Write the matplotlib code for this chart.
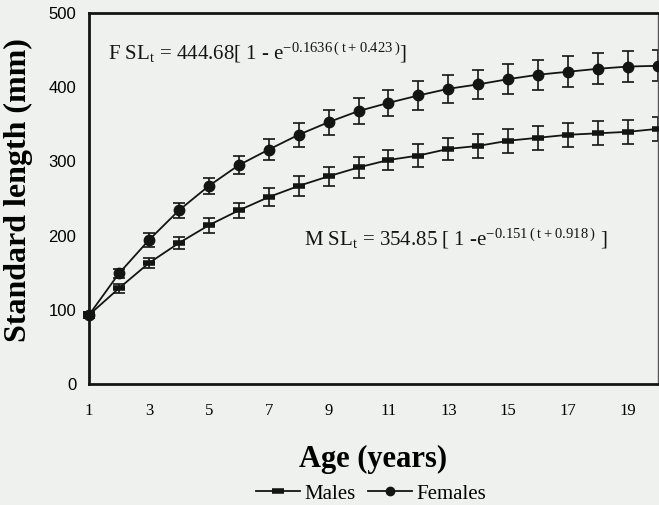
#!/usr/bin/env python3
"""Growth curves (standard length at age) for males and females."""
import matplotlib

matplotlib.use("Agg")
import matplotlib.pyplot as plt
from matplotlib.lines import Line2D

plt.rcParams["font.family"] = ["Liberation Serif", "DejaVu Serif"]
plt.rcParams["mathtext.fontset"] = "custom"
plt.rcParams["mathtext.rm"] = "Liberation Serif"
plt.rcParams["mathtext.default"] = "regular"

ages = list(range(1, 21))
female_sl = [93, 149, 194, 234, 267, 295, 316, 336, 353, 368,
             379, 389, 398, 404, 411, 417, 421, 425, 428, 429]
female_err = [4, 6, 9, 10, 11, 12, 14, 16, 17, 18,
              18, 19, 19, 20, 20, 20, 21, 21, 21, 21]
male_sl = [93, 129, 163, 190, 214, 234, 252, 267, 280, 292,
           302, 308, 317, 321, 328, 332, 336, 338, 340, 344]
male_err = [4, 6, 7, 8, 10, 10, 12, 13, 13, 14,
            14, 15, 15, 16, 16, 16, 16, 16, 16, 16]
x_ticks = [1, 3, 5, 7, 9, 11, 13, 15, 17, 19]
y_ticks = [0, 100, 200, 300, 400, 500]

bg = "#eef1ee"
ink = "#141414"

fig = plt.figure(figsize=(6.59, 5.05), dpi=100, facecolor=bg)
ax = fig.add_axes([0.135, 0.2396, 0.8635, 0.7344], facecolor=bg)

bars = dict(fmt="none", ecolor=ink, elinewidth=1.2, capsize=4.5, capthick=1.2,
            clip_on=False, zorder=2)
ax.errorbar(ages, male_sl, yerr=male_err, **bars)
ax.errorbar(ages, female_sl, yerr=female_err, **bars)
ax.plot(ages, male_sl, color=ink, linewidth=1.3, marker="_", markersize=8,
        markeredgewidth=4, clip_on=False, zorder=3)
ax.plot(ages, female_sl, color=ink, linewidth=1.3, marker="o", markersize=7.5,
        clip_on=False, zorder=3)

ax.set_xlim(1, 20)
ax.set_ylim(0, 500)
ax.set_xticks(x_ticks)
ax.set_yticks(y_ticks)
ax.tick_params(axis="both", length=0)
ax.tick_params(axis="x", labelsize=12, pad=14)
ax.tick_params(axis="y", labelsize=12, pad=9)
for lab in ax.get_yticklabels():
    lab.set_family(["Liberation Sans", "DejaVu Sans"])

for side in ["left", "bottom", "top"]:
    ax.spines[side].set_linewidth(2)
    ax.spines[side].set_color(ink)
ax.spines["right"].set_linewidth(1)
ax.spines["right"].set_color("#555555")

ax.set_xlabel("Age (years)", fontsize=22, fontweight="bold")
ax.xaxis.set_label_coords(0.5, -0.165)
ax.set_ylabel("Standard length (mm)", fontsize=23, fontweight="bold")
ax.yaxis.set_label_coords(-0.098, 0.523)

ax.text(1.62, 438, r"F SL$_t$ = 444.68[ 1 - e$^{-0.1636\,(\,t + 0.423\,)}$]",
        fontsize=15, color=ink, va="baseline")
ax.text(8.17, 187, r"M SL$_t$ = 354.85 [ 1 -e$^{-0.151\,(\,t + 0.918\,)}$ ]",
        fontsize=15, color=ink, va="baseline")

handles = [
    Line2D([], [], color=ink, linewidth=1.3, marker="_", markersize=8, markeredgewidth=4),
    Line2D([], [], color=ink, linewidth=1.3, marker="o", markersize=6),
]
fig.legend(handles, ["Males", "Females"], loc="center", bbox_to_anchor=(0.563, 0.022),
           ncol=2, frameon=False, fontsize=15, handlelength=2.1, handletextpad=0.2,
           columnspacing=0.6, borderpad=0)

fig.savefig("out.png", dpi=100, facecolor=bg)
